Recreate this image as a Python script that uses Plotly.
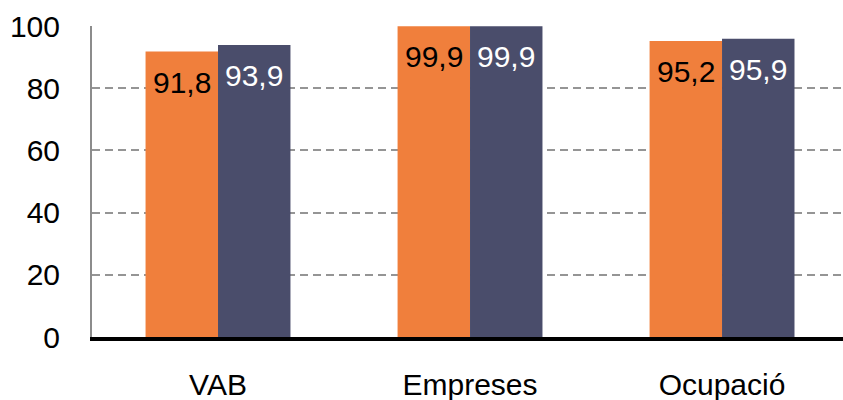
import plotly.graph_objects as go

categories = ["VAB", "Empreses", "Ocupació"]
serie_a = [91.8, 99.9, 95.2]
serie_b = [93.9, 99.9, 95.9]
y_ticks = [0, 20, 40, 60, 80, 100]

col_a = "#F07F3C"
col_b = "#4A4D6B"
font_family = "Liberation Sans, Arial, sans-serif"

fig = go.Figure()
fig.add_trace(go.Bar(name="Sèrie A", x=categories, y=serie_a, marker_color=col_a,
                     marker_line_width=0, showlegend=False))
fig.add_trace(go.Bar(name="Sèrie B", x=categories, y=serie_b, marker_color=col_b,
                     marker_line_width=0, showlegend=False))

bar_px = 72.5
for i, (vals, fc) in enumerate([(serie_a, "black"), (serie_b, "white")]):
    for c, v in zip(categories, vals):
        fig.add_annotation(x=c, y=v, xref="x", yref="y",
                           text=f"{v:.1f}".replace(".", ","),
                           showarrow=False, yanchor="top", xanchor="center",
                           xshift=(i - 0.5) * bar_px, yshift=-12,
                           font=dict(family=font_family, size=30, color=fc))

fig.update_layout(
    width=843, height=400,
    margin=dict(l=92, r=0, t=26, b=63),
    paper_bgcolor="white", plot_bgcolor="white",
    barmode="group", bargap=0.425, bargroupgap=0,
    font=dict(family=font_family, size=30, color="black"),
    xaxis=dict(range=[-0.5, 2.48], showgrid=False, showline=True, automargin=False,
               linecolor="black", linewidth=4, ticks="", ticklabelstandoff=18,
               tickfont=dict(size=30, color="black"), zeroline=False, fixedrange=True),
    yaxis=dict(range=[0, 100], tickvals=y_ticks, showgrid=True, gridcolor="#959595",
               gridwidth=2, griddash="8px,5px", showline=True, linecolor="#8C8C8C",
               linewidth=2, ticks="", ticklabelstandoff=24, zeroline=False, automargin=False,
               tickfont=dict(size=30, color="black"), fixedrange=True),
)

fig.write_html("out.html", config={"displayModeBar": False},
               post_script="document.body.style.margin='0';document.body.style.overflow='hidden';")
